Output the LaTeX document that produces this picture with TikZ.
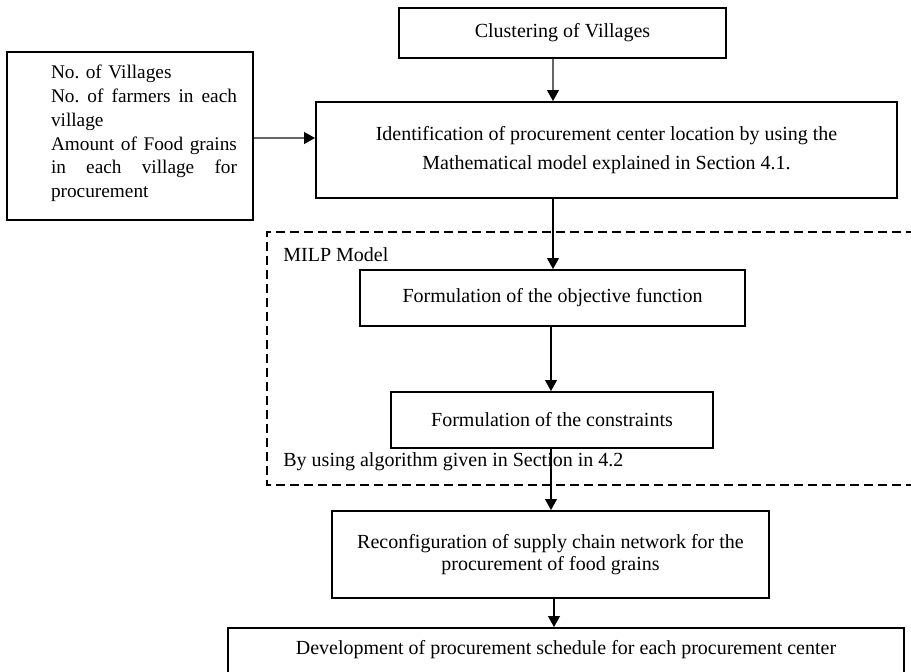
\documentclass[tikz,border=0pt]{standalone}
\usepackage{fontspec}
\setmainfont{Liberation Serif}
\usetikzlibrary{arrows.meta}
\begin{document}
\frenchspacing
\begin{tikzpicture}[x=0.5pt,y=-0.5pt,
  box/.style={draw, line width=1pt, inner sep=0pt, align=center, font=\fontsize{10}{11}\selectfont},
  arr/.style={line width=0.6pt, -{Triangle[length=5.5pt,width=6pt,color=black]}},
  lbl/.style={font=\fontsize{10}{11}\selectfont, inner sep=0pt, anchor=west},
  dashbox/.style={line width=1pt, dash pattern=on 4.5pt off 2.5pt}]
\useasboundingbox (0,0) rectangle (911,671);
\clip (0,0) rectangle (911,671);
% boxes
\node[box, minimum width=163.5pt, minimum height=25pt] (clust) at (562.5,33) {Clustering of Villages};
\node[box, minimum width=290.5pt, minimum height=48pt, font=\fontsize{10}{14.5}\selectfont] (ident) at (606.5,150)
  {Identification of procurement center location by using the\\Mathematical model explained in Section 4.1.};
\node[box, minimum width=123pt, minimum height=84pt] (inp) at (130,136) {};
\node[lbl, anchor=center, text width=93pt, align=left, font=\fontsize{9.65}{11.9}\selectfont] (inptext) at (144,133.5)
  {No. of Villages\\
   \makebox[93pt][l]{No. \hfill of \hfill farmers \hfill in \hfill each}\\
   village\\
   \makebox[93pt][l]{Amount \hfill of \hfill Food \hfill grains}\\
   \makebox[93pt][l]{in \hfill each \hfill village \hfill for}\\
   procurement};
% dashed MILP region
\draw[dashbox] (915,232) -- (267,232) -- (267,485) -- (915,485);
\node[lbl] (milp) at (283,255) {MILP Model};
\node[box, minimum width=192.5pt, minimum height=28pt] (obj) at (552.5,298) {Formulation of the objective function};
\node[box, minimum width=161pt, minimum height=28pt] (cons) at (552,420) {Formulation of the constraints};
\node[lbl] (alg) at (283,462) {By using algorithm given in Section in 4.2};
\node[box, minimum width=218.5pt, minimum height=43.5pt] (reconf) at (550.5,554.5)
  {Reconfiguration of supply chain network for the\\procurement of food grains};
\node[box, anchor=north, minimum width=338pt, text height=13pt, text depth=30pt, inner ysep=0pt] (dev) at (566,627)
  {Development of procurement schedule for each procurement center};
% connector coordinates
\coordinate (c1) at (553,0);
\coordinate (c2) at (553,0);
\coordinate (c3) at (551,0);
\coordinate (c4) at (551,0);
\coordinate (c5) at (554,0);
\coordinate (ay) at (0,138);
% connectors
\draw[arr, draw=black!60] (clust.south -| c1) -- (ident.north -| c1);
\draw[arr, draw=black!60] (inp.east |- ay) -- (ident.west |- ay);
\draw[arr] (ident.south -| c2) -- (obj.north -| c2);
\draw[arr] (obj.south -| c3) -- (cons.north -| c3);
\draw[arr] (cons.south -| c4) -- (reconf.north -| c4);
\draw[arr] (reconf.south -| c5) -- (dev.north -| c5);
\end{tikzpicture}
\end{document}
